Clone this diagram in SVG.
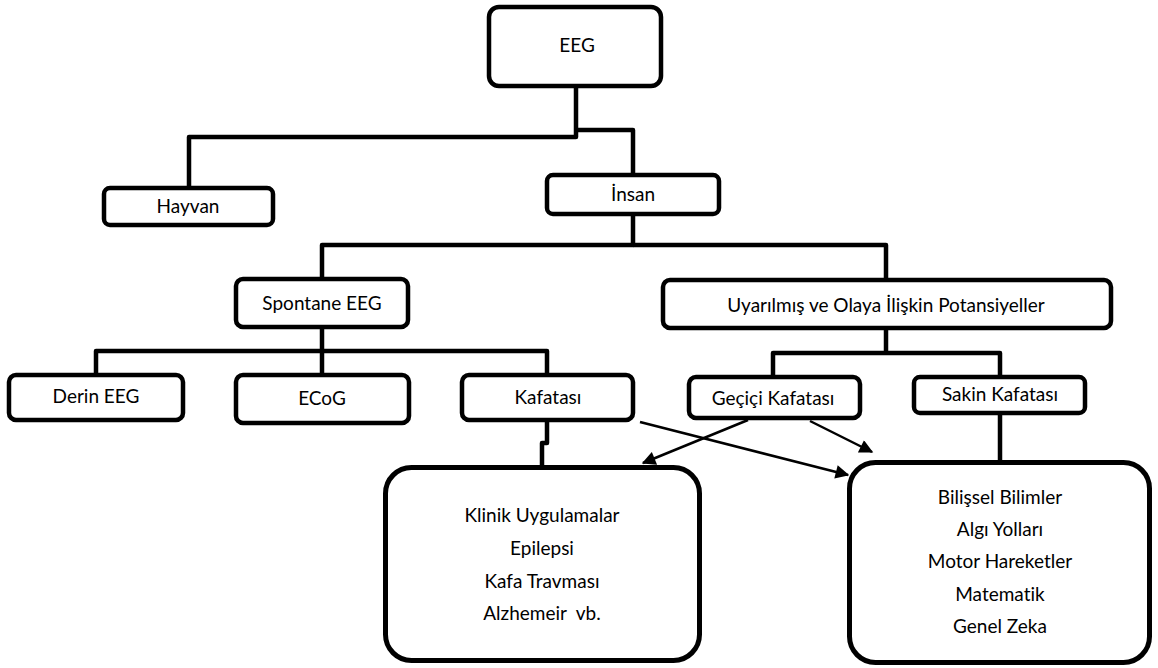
<svg xmlns="http://www.w3.org/2000/svg" width="1158" height="668" viewBox="0 0 1158 668">
<style>
.box{fill:#fff;stroke:#000;stroke-width:4.5}
.big{fill:#fff;stroke:#000;stroke-width:5}
.t{font-family:Lato,"Open Sans","Liberation Sans",sans-serif;font-size:19px;fill:#000;text-anchor:middle;font-variant-ligatures:none}
.c{fill:none;stroke:#000;stroke-width:4.5;stroke-linejoin:round}
.a{fill:none;stroke:#000;stroke-width:2.5}
</style>
<defs>
<marker id="ah" viewBox="0 0 10 10" refX="9" refY="5" markerWidth="6" markerHeight="5.5" orient="auto" markerUnits="strokeWidth">
<path d="M0,0 L10,5 L0,10 z" fill="#000"/>
</marker>
</defs>
<rect width="1158" height="668" fill="#fff"/>
<g id="connectors">
<path class="c" d="M576,87 V137 H189 V188"/>
<path class="c" d="M576,130 H633 V175"/>
<path class="c" d="M633,214 V245 H322 V279"/>
<path class="c" d="M633,245 H886 V280"/>
<path class="c" d="M96,375 V351 H547 V375"/>
<path class="c" d="M322,327 V375"/>
<path class="c" d="M886,328 V353"/>
<path class="c" d="M773,377 V353 H1000 V377"/>
<path class="c" d="M547,420 V443 H542 V467"/>
<path class="c" d="M1000,413 V462"/>
<line class="a" x1="640" y1="422" x2="848" y2="475" marker-end="url(#ah)"/>
<line class="a" x1="748" y1="420" x2="643" y2="463" marker-end="url(#ah)"/>
<line class="a" x1="810" y1="421" x2="872" y2="452" marker-end="url(#ah)"/>
</g>
<g id="eeg"><rect class="box" x="489" y="7" width="172" height="79" rx="10"/><text class="t" x="577" y="52">EEG</text></g>
<g id="hayvan"><rect class="box" x="104" y="188" width="169" height="37" rx="6"/><text class="t" x="188" y="213">Hayvan</text></g>
<g id="insan"><rect class="box" x="547" y="175" width="172" height="39" rx="6"/><text class="t" x="633" y="201">İnsan</text></g>
<g id="spontane"><rect class="box" x="236" y="279" width="172" height="48" rx="7"/><text class="t" x="322" y="310">Spontane EEG</text></g>
<g id="uyarilmis"><rect class="box" x="663" y="280" width="448" height="48" rx="7"/><text class="t" x="886" y="312">Uyarılmış ve Olaya İlişkin Potansiyeller</text></g>
<g id="derin"><rect class="box" x="9" y="375" width="174" height="45" rx="7"/><text class="t" x="96" y="403">Derin EEG</text></g>
<g id="ecog"><rect class="box" x="236" y="375" width="173" height="48" rx="7"/><text class="t" x="322" y="405">ECoG</text></g>
<g id="kafatasi"><rect class="box" x="462" y="375" width="171" height="45" rx="7"/><text class="t" x="548" y="404">Kafatası</text></g>
<g id="gecici"><rect class="box" x="689" y="377" width="171" height="41" rx="7"/><text class="t" x="773" y="405">Geçiçi Kafatası</text></g>
<g id="sakin"><rect class="box" x="914" y="377" width="171" height="36" rx="6"/><text class="t" x="1000" y="401">Sakin Kafatası</text></g>
<g id="klinik"><rect class="big" x="385.5" y="467.5" width="314" height="193" rx="26"/>
<text class="t" x="542" y="522">Klinik Uygulamalar</text>
<text class="t" x="542" y="555">Epilepsi</text>
<text class="t" x="542" y="588">Kafa Travması</text>
<text class="t" x="542" y="620" xml:space="preserve">Alzhemeir  vb.</text></g>
<g id="bilissel"><rect class="big" x="849.5" y="462.5" width="300" height="200" rx="26"/>
<text class="t" x="1000" y="504">Bilişsel Bilimler</text>
<text class="t" x="1000" y="536">Algı Yolları</text>
<text class="t" x="1000" y="568">Motor Hareketler</text>
<text class="t" x="1000" y="601">Matematik</text>
<text class="t" x="1000" y="633">Genel Zeka</text></g>
</svg>
